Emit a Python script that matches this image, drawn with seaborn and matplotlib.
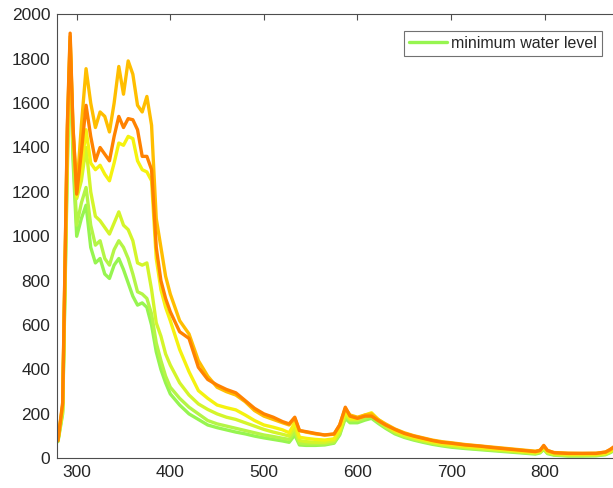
import matplotlib
matplotlib.use("Agg")
import matplotlib.pyplot as plt
import pandas as pd
import seaborn as sns

# wavelength grid (nm) shared by all spectra
wavelength = [280, 285, 290, 293, 296, 300, 305, 310, 315, 320, 325, 330, 335, 340, 345, 350,
              355, 360, 365, 370, 375, 380, 385, 390, 395, 400, 410, 420, 430, 440, 450, 460,
              470, 480, 490, 500, 510, 520, 527, 533, 538, 545, 555, 565, 575, 581, 587, 592,
              600, 608, 615, 622, 630, 640, 650, 660, 670, 680, 690, 700, 715, 730, 745, 760,
              775, 790, 795, 799, 803, 810, 825, 840, 855, 865, 870, 875]

# intensity per water level, lowest first
green = [75, 200, 1300, 1840, 1350, 1000, 1080, 1140, 950, 880, 900, 830, 810, 870, 900, 850,
         790, 730, 690, 700, 680, 600, 480, 400, 340, 290, 240, 200, 175, 150, 138, 128,
         118, 110, 100, 92, 85, 78, 72, 105, 60, 58, 58, 60, 68, 105, 180, 160,
         160, 172, 180, 158, 135, 110, 94, 82, 72, 63, 56, 50, 44, 39, 34, 29,
         24, 19, 24, 40, 21, 14, 10, 10, 11, 16, 25, 37]
light_green = [80, 210, 1350, 1850, 1400, 1050, 1150, 1220, 1050, 960, 980, 900, 870, 940, 980, 950,
               900, 830, 750, 740, 720, 650, 520, 440, 370, 320, 270, 230, 200, 170, 155, 145,
               135, 125, 115, 105, 98, 90, 85, 120, 68, 65, 65, 65, 72, 110, 190, 170,
               170, 180, 190, 165, 140, 115, 98, 86, 76, 67, 60, 54, 47, 42, 37, 32,
               27, 22, 27, 43, 24, 16, 12, 12, 13, 18, 28, 40]
yellow_green = [80, 220, 1400, 1860, 1450, 1170, 1250, 1400, 1200, 1090, 1070, 1040, 1010, 1060, 1110, 1050,
                1030, 980, 880, 870, 880, 760, 610, 550, 470, 420, 340, 285, 245, 220, 200, 185,
                175, 160, 145, 130, 118, 108, 100, 140, 80, 75, 72, 72, 80, 120, 200, 175,
                175, 190, 200, 172, 145, 120, 102, 90, 80, 70, 62, 57, 50, 45, 40, 35,
                29, 24, 29, 46, 27, 18, 15, 15, 15, 20, 30, 42]
yellow = [85, 230, 1450, 1880, 1470, 1180, 1300, 1480, 1330, 1300, 1320, 1280, 1250, 1330, 1420, 1410,
          1450, 1440, 1340, 1300, 1290, 1250, 900, 760, 680, 620, 490, 390, 305, 270, 240, 228,
          218, 195, 170, 150, 140, 128, 115, 160, 95, 90, 85, 82, 88, 130, 210, 180,
          180, 195, 205, 175, 150, 125, 108, 95, 85, 75, 68, 62, 55, 50, 44, 38,
          32, 27, 32, 50, 30, 22, 18, 18, 18, 22, 32, 45]
gold = [85, 240, 1480, 1900, 1490, 1200, 1500, 1755, 1600, 1490, 1560, 1540, 1470, 1600, 1765, 1640,
        1790, 1730, 1590, 1560, 1630, 1500, 1080, 950, 820, 740, 620, 560, 440, 370, 320, 300,
        285, 255, 215, 190, 175, 160, 150, 180, 125, 118, 110, 105, 108, 150, 225, 195,
        185, 195, 200, 175, 155, 132, 115, 102, 92, 82, 75, 70, 62, 56, 50, 44,
        38, 32, 36, 55, 35, 26, 23, 22, 23, 28, 38, 52]
orange = [80, 250, 1500, 1915, 1500, 1190, 1380, 1590, 1450, 1340, 1400, 1370, 1340, 1450, 1540, 1490,
          1530, 1525, 1480, 1360, 1360, 1300, 950, 800, 720, 660, 570, 540, 410, 355, 330, 310,
          295, 260, 225, 200, 185, 165, 155, 185, 125, 120, 112, 105, 110, 150, 230, 190,
          180, 190, 190, 170, 150, 130, 112, 100, 90, 80, 72, 68, 60, 55, 48, 42,
          36, 30, 35, 58, 35, 25, 22, 22, 22, 28, 40, 55]

series = [green, light_green, yellow_green, yellow, gold, orange]
colors = ["#96F550", "#B4F546", "#D4F52A", "#F5F20F", "#FFBE00", "#FF8200"]
labels = ["minimum water level", None, None, None, None, None]

sns.set_style("white")
plt.rcParams["font.family"] = ["Liberation Sans", "DejaVu Sans"]

fig = plt.figure(figsize=(6.13, 4.88), dpi=100)
ax = fig.add_axes([0.0935, 0.0609, 1.0 - 0.0935, 0.9098])

for vals, col, lab in zip(series, colors, labels):
    df = pd.DataFrame({"wavelength": wavelength, "intensity": vals})
    sns.lineplot(data=df, x="wavelength", y="intensity", color=col, lw=2.4,
                 label=lab, ax=ax, legend=False)

ax.set_xlim(279.3, 873)
ax.set_ylim(0, 2000)
ax.set_xticks([300, 400, 500, 600, 700, 800])
ax.set_yticks(range(0, 2001, 200))
ax.set_xlabel("")
ax.set_ylabel("")

edge = "#262626"
for side in ["left", "bottom", "top"]:
    ax.spines[side].set_color("#4d4d4d")
    ax.spines[side].set_linewidth(0.8)
ax.spines["right"].set_visible(False)
ax.tick_params(direction="in", length=4, width=0.8, color="#4d4d4d",
               labelsize=12.5, labelcolor=edge, top=True, pad=5)

leg_line = ax.get_lines()[0]
leg = ax.legend([leg_line], ["minimum water level"], loc="upper right",
                bbox_to_anchor=(0.980, 0.962), borderaxespad=0, fontsize=11.5,
                frameon=True, fancybox=False, handlelength=2.4, borderpad=0.3,
                handletextpad=0.25, labelcolor=edge)
leg.get_frame().set_edgecolor("#4d4d4d")
leg.get_frame().set_linewidth(0.8)

fig.savefig("out.png", dpi=100)
